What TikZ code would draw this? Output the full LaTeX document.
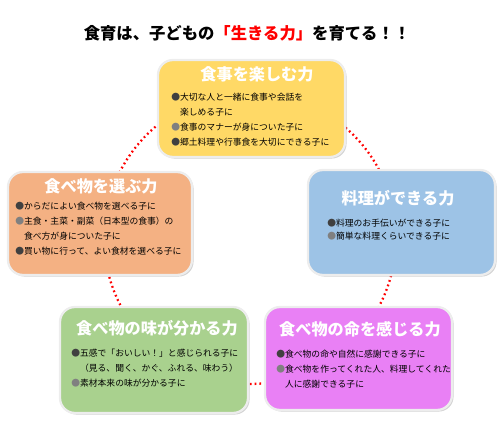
\documentclass[tikz,border=0pt]{standalone}
\usepackage{fontspec}
\setmainfont{Noto Sans CJK JP}
\usetikzlibrary{shadows}

\definecolor{boxyellow}{RGB}{255,217,102}
\definecolor{boxorange}{RGB}{244,177,131}
\definecolor{boxblue}{RGB}{157,195,230}
\definecolor{boxgreen}{RGB}{169,209,142}
\definecolor{boxpink}{RGB}{233,128,245}
\newcommand{\dk}{\textcolor{black!75}{●}}
\newcommand{\lt}{\textcolor{black!50}{●}}

\begin{document}
\begin{tikzpicture}[x=0.02cm,y=-0.02cm,
  box/.style={draw=black!7,line width=1.3pt,rounded corners=0.3cm,minimum width=3.74cm,minimum height=2.08cm,
    drop shadow={shadow xshift=0.9pt,shadow yshift=-0.9pt,fill=black!35}},
  heading/.style={font=\bfseries\fontsize{9.2pt}{11pt}\selectfont,text=white},
  items/.style={anchor=north west,align=left,inner sep=0pt,font=\fontsize{5pt}{8.5pt}\selectfont},
  title/.style={font=\bfseries\fontsize{9.3pt}{11pt}\selectfont},
  ring/.style={draw=red,line width=1.3pt,dash pattern=on 1pt off 1.7pt},
]
\useasboundingbox (0,0) rectangle (500,428);
\node[title] (head) at (247,33) {食育は、子どもの\textcolor{red}{「生きる力」}を育てる！！};

% dotted ring behind the five boxes
\coordinate (hub) at (250,238);
\draw[ring] (hub) circle[radius=2.92cm];

\node[box,fill=boxyellow,minimum height=1.94cm] (enjoy) at (251.5,108.5) {};
\node[box,fill=boxorange,minimum width=3.68cm,minimum height=2.06cm] (choose) at (100,223.5) {};
\node[box,fill=boxblue,minimum height=2.1cm] (cook) at (401.5,222.5) {};
\node[box,fill=boxgreen,minimum width=3.76cm,minimum height=2.12cm] (taste) at (154,360) {};
\node[box,fill=boxpink,minimum height=2.06cm] (life) at (358.5,358.5) {};

\node[heading] (enjoyT) at (257,74) {食事を楽しむ力};
\node[heading] (chooseT) at (101,186) {食べ物を選ぶ力};
\node[heading] (cookT) at (398,198) {料理ができる力};
\node[heading] (tasteT) at (157,328) {食べ物の味が分かる力};
\node[heading] (lifeT) at (360,329) {食べ物の命を感じる力};

\node[items] (enjoyL) at (171,93)
  {\dk 大切な人と一緒に食事や会話を\\\phantom{●}楽しめる子に\\\lt 食事のマナーが身についた子に\\\dk 郷土料理や行事食を大切にできる子に};
\node[items] (chooseL) at (15,202)
  {\dk からだによい食べ物を選べる子に\\\lt 主食・主菜・副菜（日本型の食事）の\\\phantom{●}食べ方が身についた子に\\\dk 買い物に行って、よい食材を選べる子に};
\node[items,font=\fontsize{5pt}{7pt}\selectfont] (cookL) at (327,219)
  {\dk 料理のお手伝いができる子に\\\lt 簡単な料理くらいできる子に};
\node[items] (tasteL) at (71,349)
  {\dk 五感で「おいしい！」と感じられる子に\\\phantom{●}（見る、聞く、かぐ、ふれる、味わう）\\\lt 素材本来の味が分かる子に};
\node[items] (lifeL) at (276,350)
  {\dk 食べ物の命や自然に感謝できる子に\\\lt 食べ物を作ってくれた人、料理してくれた\\\phantom{●}人に感謝できる子に};
\end{tikzpicture}
\end{document}
